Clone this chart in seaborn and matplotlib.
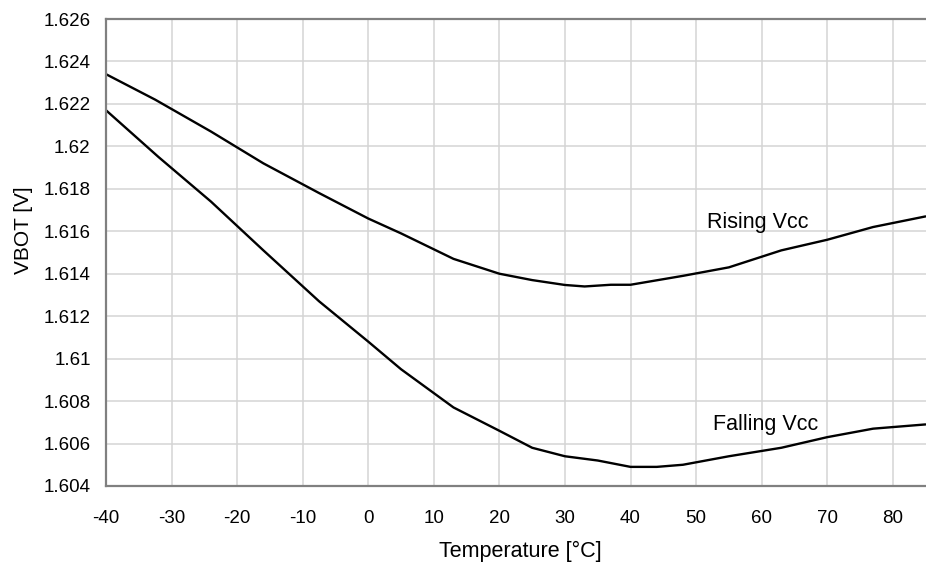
import numpy as np
import pandas as pd
import seaborn as sns
import matplotlib
matplotlib.use("Agg")
import matplotlib.pyplot as plt
from matplotlib import font_manager

# temperatura [°C] e tensao VBOT [V]
temp_rising = [-40, -32.5, -24, -16, -7.5, 0, 5, 13, 20, 25, 30, 33, 37, 40, 48, 55, 63, 70, 77, 85]
vbot_rising = [1.6234, 1.6222, 1.6207, 1.6192, 1.6178, 1.6166, 1.6159, 1.6147, 1.6140, 1.6137,
               1.61347, 1.6134, 1.61348, 1.61348, 1.6139, 1.6143, 1.6151, 1.6156, 1.6162, 1.6167]

temp_falling = [-40, -32, -24, -16, -7.5, 0, 5, 13, 20, 25, 30, 35, 40, 44, 48, 55, 63, 70, 77, 85]
vbot_falling = [1.6217, 1.6195, 1.6174, 1.6151, 1.6127, 1.6108, 1.6095, 1.6077, 1.6066, 1.6058,
                1.6054, 1.6052, 1.6049, 1.6049, 1.6050, 1.6054, 1.6058, 1.6063, 1.6067, 1.6069]

x_ticks = [-40, -30, -20, -10, 0, 10, 20, 30, 40, 50, 60, 70, 80]
y_ticks = [1.604, 1.606, 1.608, 1.61, 1.612, 1.614, 1.616, 1.618, 1.62, 1.622, 1.624, 1.626]
y_tick_labels = ["1.604", "1.606", "1.608", "1.61", "1.612", "1.614", "1.616",
                 "1.618", "1.62", "1.622", "1.624", "1.626"]

dados = pd.concat([
    pd.DataFrame({"temp": temp_rising, "vbot": vbot_rising, "serie": "Rising Vcc"}),
    pd.DataFrame({"temp": temp_falling, "vbot": vbot_falling, "serie": "Falling Vcc"}),
])

sns.set_style("white")

# fonte estreita, se existir
familia = "Liberation Sans"
try:
    font_manager.findfont("Liberation Sans Narrow", fallback_to_default=False)
    familia = "Liberation Sans Narrow"
except Exception:
    pass
plt.rcParams["font.family"] = [familia, "DejaVu Sans"]
plt.rcParams["axes.unicode_minus"] = False
plt.rcParams["text.color"] = "black"
plt.rcParams["axes.labelcolor"] = "black"

fig = plt.figure(figsize=(9.26, 5.69), dpi=100)
ax = fig.add_axes([0.1145, 0.1459, 0.885, 0.8207])

sns.lineplot(data=dados, x="temp", y="vbot", hue="serie", palette=["black", "black"],
             sort=False, linewidth=1.7, legend=False, ax=ax)

ax.set_xlim(-40, 85)
ax.set_ylim(1.604, 1.626)
ax.set_xticks(x_ticks)
ax.set_yticks(y_ticks)
ax.set_yticklabels(y_tick_labels)
ax.grid(True, color="#d4d4d4", linewidth=1.1)
ax.set_axisbelow(True)

for lado in ["left", "bottom", "top"]:
    ax.spines[lado].set_color("#808080")
    ax.spines[lado].set_linewidth(1.6)
ax.spines["right"].set_visible(False)

ax.tick_params(axis="both", length=0, labelsize=13.5, colors="black")
ax.tick_params(axis="x", pad=17)
ax.tick_params(axis="y", pad=11)

ax.set_xlabel("Temperature [°C]", fontsize=15.5)
ax.set_ylabel("VBOT [V]", fontsize=15)
ax.xaxis.set_label_coords(0.506, -0.118)
ax.yaxis.set_label_coords(-0.089, 0.548)

ax.text(51.7, 1.6164, "Rising Vcc", fontsize=15.5, va="center", ha="left")
ax.text(52.6, 1.6069, "Falling Vcc", fontsize=15.5, va="center", ha="left")

fig.savefig("out.png", dpi=100)
